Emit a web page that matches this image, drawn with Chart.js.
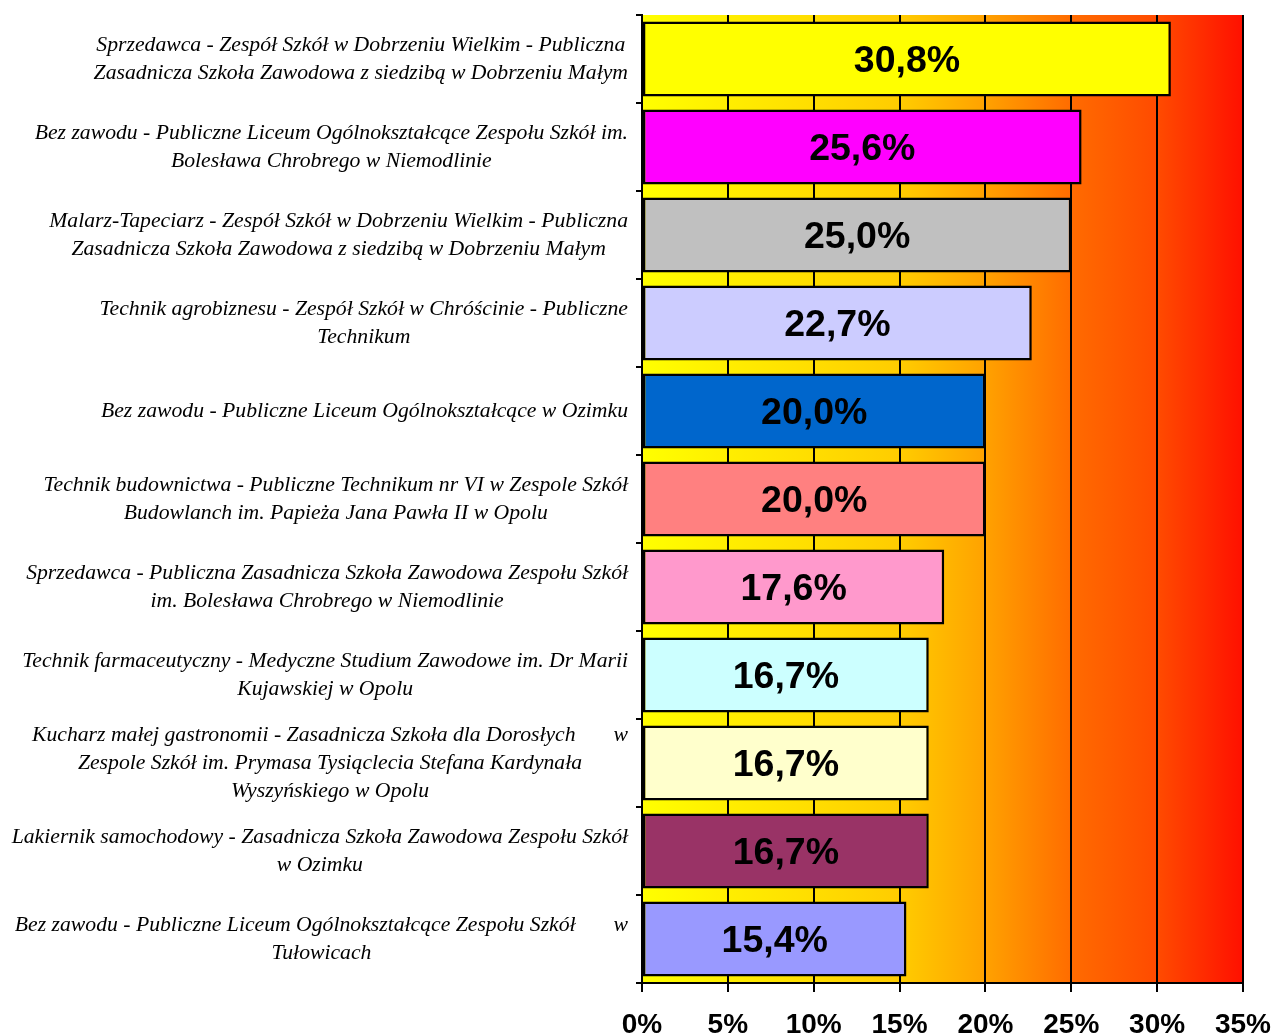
<!DOCTYPE html>
<html>
<head>
<meta charset="utf-8">
<script src="https://cdn.jsdelivr.net/npm/chart.js@4.4.0/dist/chart.umd.min.js"></script>
<style>
  html, body { margin: 0; padding: 0; background: #fff; }
  #wrap { width: 1271px; height: 1035px; }
</style>
</head>
<body>
<div id="wrap"><canvas id="chart" width="1271" height="1035"></canvas></div>
<script>
// etykiety kategorii (linie tak jak w oryginale)
const categories = [
    ["Sprzedawca - Zespół Szkół w Dobrzeniu Wielkim - Publiczna", "Zasadnicza Szkoła Zawodowa z siedzibą w Dobrzeniu Małym"],
    ["Bez zawodu - Publiczne Liceum Ogólnokształcące Zespołu Szkół im.", "Bolesława Chrobrego w Niemodlinie"],
    ["Malarz-Tapeciarz - Zespół Szkół w Dobrzeniu Wielkim - Publiczna", "Zasadnicza Szkoła Zawodowa z siedzibą w Dobrzeniu Małym"],
    ["Technik agrobiznesu - Zespół Szkół w Chróścinie - Publiczne", "Technikum"],
    ["Bez zawodu - Publiczne Liceum Ogólnokształcące w Ozimku"],
    ["Technik budownictwa - Publiczne Technikum nr VI w Zespole Szkół", "Budowlanch im. Papieża Jana Pawła II w Opolu"],
    ["Sprzedawca - Publiczna Zasadnicza Szkoła Zawodowa Zespołu Szkół", "im. Bolesława Chrobrego w Niemodlinie"],
    ["Technik farmaceutyczny - Medyczne Studium Zawodowe im. Dr Marii", "Kujawskiej w Opolu"],
    ["Kucharz małej gastronomii - Zasadnicza Szkoła dla Dorosłych\u00a0\u00a0\u00a0\u00a0\u00a0\u00a0\u00a0w", "Zespole Szkół im. Prymasa Tysiąclecia Stefana Kardynała", "Wyszyńskiego w Opolu"],
    ["Lakiernik samochodowy - Zasadnicza Szkoła Zawodowa Zespołu Szkół", "w Ozimku"],
    ["Bez zawodu - Publiczne Liceum Ogólnokształcące Zespołu Szkół\u00a0\u00a0\u00a0\u00a0\u00a0\u00a0\u00a0w", "Tułowicach"]
];
const values = [30.8, 25.6, 25.0, 22.7, 20.0, 20.0, 17.6, 16.7, 16.7, 16.7, 15.4];
const barColors = ["#FFFF00", "#FF00FF", "#C0C0C0", "#CCCCFF", "#0066CC", "#FF8080",
                   "#FF99CC", "#CCFFFF", "#FFFFCC", "#993366", "#9999FF"];
const xTicks = [0, 5, 10, 15, 20, 25, 30, 35];

const PLOT_LEFT = 642;
const PLOT_BOTTOM = 983;

// tło obszaru wykresu: gradient od żółtego do czerwonego
const bgPlugin = {
    id: 'bgGradient',
    beforeDraw(chart) {
        const a = chart.chartArea;
        const ctx = chart.ctx;
        const g = ctx.createLinearGradient(a.left, 0, a.right, 0);
        g.addColorStop(0, '#FFFF00');
        g.addColorStop(0.43, '#FFCC00');
        g.addColorStop(0.57, '#FFA200');
        g.addColorStop(0.72, '#FF6A00');
        g.addColorStop(0.86, '#FF4A00');
        g.addColorStop(1, '#FF1000');
        ctx.save();
        ctx.fillStyle = g;
        ctx.fillRect(a.left, a.top, a.right - a.left, a.bottom - a.top);
        ctx.restore();
    }
};

// etykiety osi Y - wyśrodkowane względem najdłuższej linii, dosunięte do prawej
const yLabelsPlugin = {
    id: 'yLabels',
    afterDraw(chart) {
        const ctx = chart.ctx;
        const yScale = chart.scales.y;
        const right = 628;
        const lineH = 28;
        ctx.save();
        ctx.font = 'italic 21.7px "Liberation Serif", "Times New Roman", serif';
        ctx.fillStyle = '#000';
        ctx.textAlign = 'center';
        ctx.textBaseline = 'middle';
        categories.forEach((lines, i) => {
            const y = yScale.getPixelForValue(i);
            let maxW = 0;
            lines.forEach(l => { maxW = Math.max(maxW, ctx.measureText(l).width); });
            const cx = right - maxW / 2;
            const y0 = y - (lines.length - 1) * lineH / 2;
            lines.forEach((l, j) => ctx.fillText(l, cx, y0 + j * lineH));
        });
        ctx.restore();
    }
};

// wartości na słupkach
const valueLabelsPlugin = {
    id: 'valueLabels',
    afterDatasetsDraw(chart) {
        const ctx = chart.ctx;
        const meta = chart.getDatasetMeta(0);
        ctx.save();
        ctx.font = 'bold 37.5px "Liberation Sans", Arial, sans-serif';
        ctx.fillStyle = '#000';
        ctx.textAlign = 'center';
        ctx.textBaseline = 'middle';
        meta.data.forEach((bar, i) => {
            const txt = values[i].toFixed(1).replace('.', ',') + '%';
            ctx.fillText(txt, (bar.base + bar.x) / 2, bar.y + 3);
        });
        ctx.restore();
    }
};

const ctx = document.getElementById('chart').getContext('2d');
const chart = new Chart(ctx, {
    type: 'bar',
    data: {
        labels: categories.map((c, i) => i),
        datasets: [{
            data: values,
            backgroundColor: barColors,
            borderColor: '#000',
            borderWidth: 2.5,
            borderSkipped: false,
            categoryPercentage: 1.0,
            barPercentage: 0.85
        }]
    },
    options: {
        indexAxis: 'y',
        responsive: false,
        animation: false,
        layout: { padding: { top: 15, right: 28, left: 0, bottom: 0 } },
        plugins: {
            legend: { display: false },
            tooltip: { enabled: false }
        },
        scales: {
            x: {
                min: 0,
                max: 35,
                afterBuildTicks(scale) {
                    scale.ticks = xTicks.map(v => ({ value: v }));
                },
                afterFit(scale) {
                    scale.height = 1035 - PLOT_BOTTOM;
                    scale.paddingLeft = 0;
                    scale.paddingRight = 0;
                },
                grid: {
                    color: '#000',
                    lineWidth: 2,
                    tickLength: 9,
                    drawTicks: true
                },
                border: { display: true, color: '#000', width: 2 },
                ticks: {
                    padding: 16,
                    color: '#000',
                    maxRotation: 0,
                    font: { family: '"Liberation Sans", Arial, sans-serif', size: 28, weight: 'bold' },
                    callback: v => v + '%'
                }
            },
            y: {
                afterFit(scale) {
                    scale.width = PLOT_LEFT;
                    scale.paddingTop = 0;
                    scale.paddingBottom = 0;
                },
                grid: {
                    offset: true,
                    drawOnChartArea: false,
                    color: '#000',
                    lineWidth: 2,
                    tickLength: 6
                },
                border: { display: true, color: '#000', width: 2 },
                ticks: { display: false }
            }
        }
    },
    plugins: [bgPlugin, yLabelsPlugin, valueLabelsPlugin]
});
</script>
</body>
</html>
